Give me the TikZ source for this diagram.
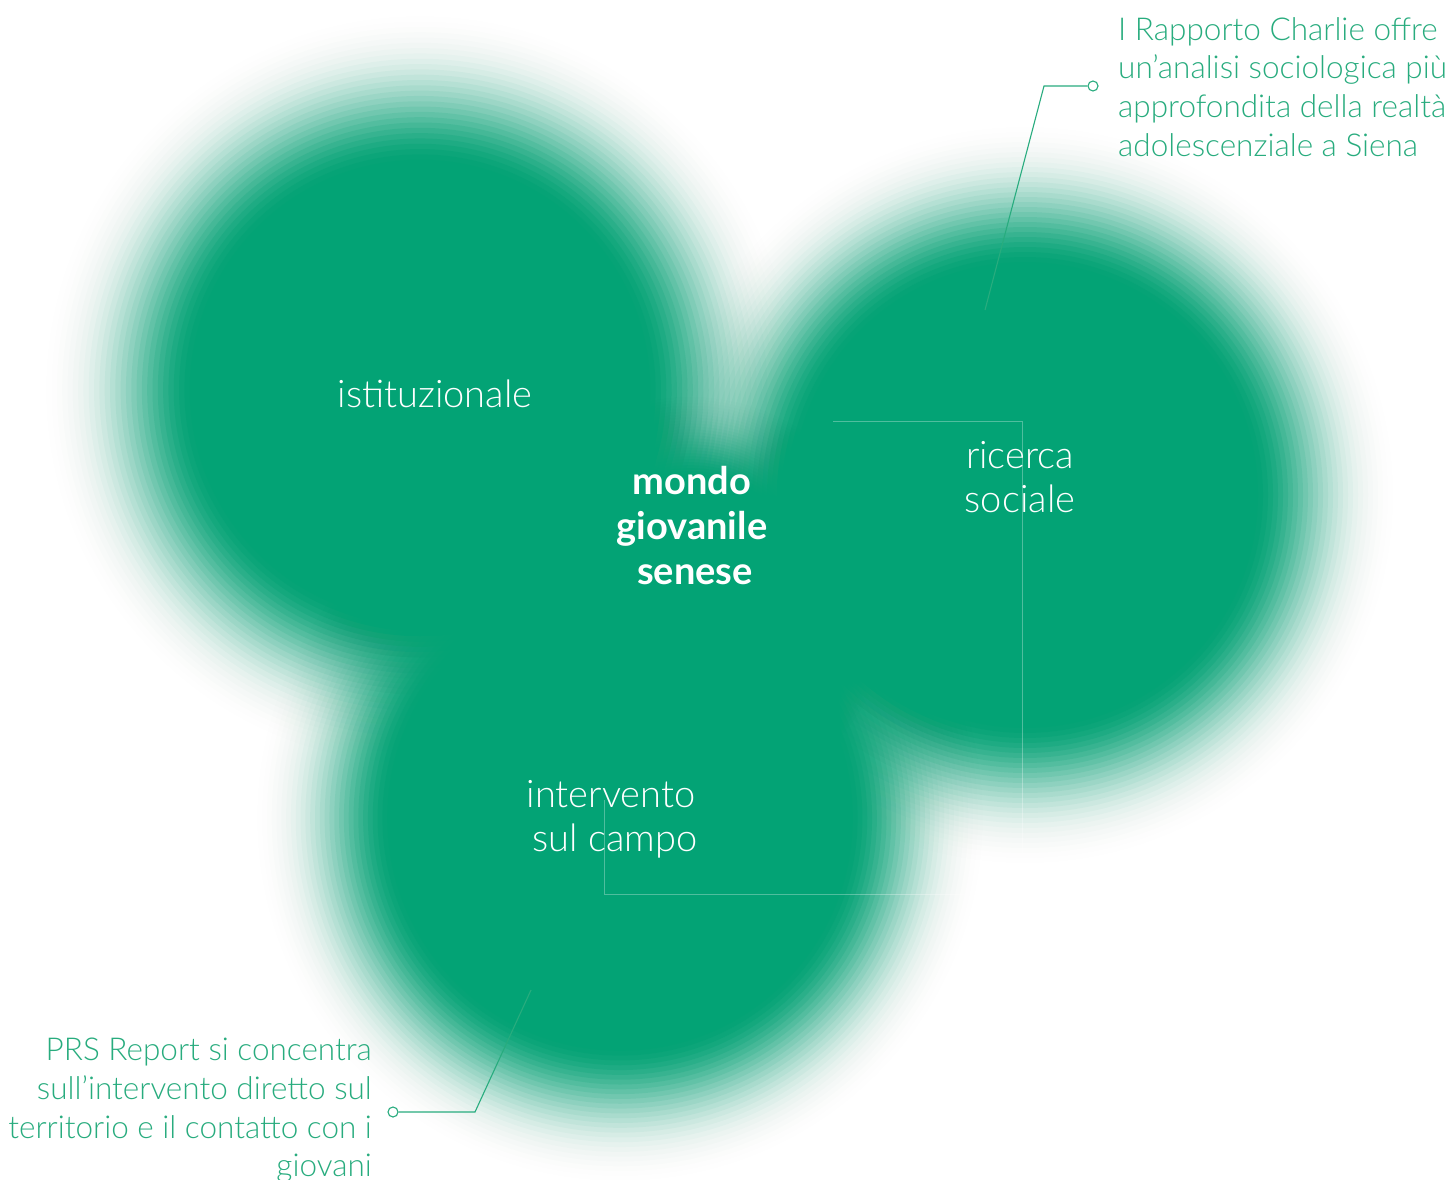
\documentclass[tikz,border=0pt]{standalone}
\usepackage{fontspec}
\setmainfont{Lato}[UprightFont=* Light, BoldFont=* Bold]

\definecolor{blobgreen}{RGB}{3,163,117}
\definecolor{notegreen}{RGB}{40,172,126}

% A soft-edged disc: solid core of radius #3, smooth fall-off out to #4,
% built from stacked translucent discs (skewed smoothstep profile with a
% long faint outer tail).
\newcommand\softblob[4]{%
  \foreach \j in {0,...,31} {%
    \pgfmathsetmacro\sA{((\j+0.5)/32)^1.6}%
    \pgfmathsetmacro\sB{(max(\j-0.5,0)/32)^1.6}%
    \pgfmathsetmacro\oA{\sA*\sA*(3-2*\sA)}%
    \pgfmathsetmacro\oB{\sB*\sB*(3-2*\sB)}%
    \pgfmathsetmacro\aa{1-(1-\oA)/(1-\oB)}%
    \pgfmathsetmacro\rr{#4-(#4-#3)*\j/32}%
    \fill[blobgreen, fill opacity=\aa] (#1,#2) circle[radius=\rr];%
  }%
  \fill[blobgreen] (#1,#2) circle[radius=#3];%
}

\tikzset{
  label/.style={text=white, align=center, inner sep=0pt,
    font=\fontsize{38}{44}\selectfont},
  mainlabel/.style={text=white, align=center, inner sep=0pt,
    font=\fontsize{38}{45}\selectfont\bfseries},
  note/.style={text=notegreen, inner sep=0pt,
    font=\fontsize{31.5}{38.7}\selectfont},
  leader/.style={draw=notegreen, line width=1.1pt},
  dot/.style={circle, draw=notegreen, fill=white, line width=1.1pt,
    minimum size=10pt, inner sep=0pt},
  frame/.style={draw=white, draw opacity=0.3, line width=0.8pt}
}

\begin{document}
\begin{tikzpicture}[x=1pt,y=-1pt]
\useasboundingbox[fill=white] (0,0) rectangle (1454,1180);

% the three merging areas and their common centre
\softblob{420}{390}{225}{395}
\softblob{1025}{495}{228}{388}
\softblob{620}{818}{228}{382}
\softblob{690}{600}{120}{215}

% faint frame across the centre
\draw[frame] (833,421) -- (1022,421) -- (1022,894) -- (604,894) -- (604,800);

% labels of the areas
\node[label] (ist) at (435,394) {istituzionale};
\node[label] (ric) at (1020,477) {ricerca\\sociale};
\node[label] (int) at (611,819) {intervento\\\hspace*{8pt}sul campo};
\node[mainlabel] (core) at (692,526) {mondo\\giovanile\\\hspace*{6pt}senese};

% notes with their leaders
\node[note, align=left, anchor=north west] (charlie) at (1118,17)
  {I Rapporto Charlie offre\\un’analisi sociologica più\\approfondita della realtà\\adolescenziale a Siena};
\node[dot] (dtop) at (1093,86) {};
\coordinate (ftop) at (985,310);
\draw[leader] (ftop) -- (1044,86) -- (dtop.west);

\node[note, align=right, anchor=north east] (prs) at (372,1038)
  {PRS Report si concentra\\sull’intervento diretto sul\\territorio e il contatto con i\\giovani};
\node[dot] (dbot) at (393,1112) {};
\coordinate (fbot) at (531,990);
\draw[leader] (fbot) -- (475,1112) -- (dbot.east);
\end{tikzpicture}
\end{document}
